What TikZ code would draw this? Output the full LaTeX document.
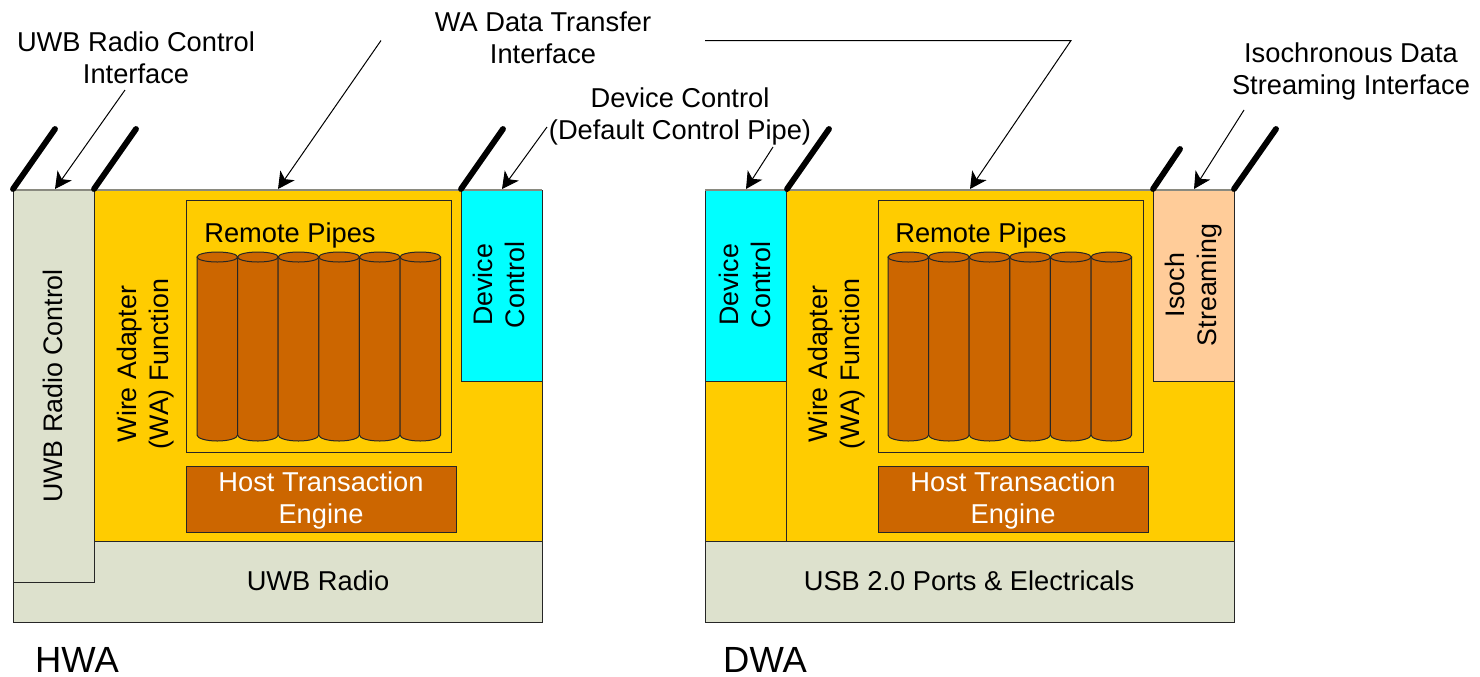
\documentclass[tikz,border=0pt]{standalone}
\usepackage{fontspec}
\setmainfont{Liberation Sans}
\usetikzlibrary{arrows.meta}
\definecolor{wayellow}{HTML}{FFCC00}
\definecolor{wabrown}{HTML}{CC6600}
\definecolor{wagrey}{HTML}{DDE1CD}
\definecolor{wacyan}{HTML}{00FFFF}
\definecolor{wapeach}{HTML}{FFCC99}
\definecolor{waedge}{HTML}{8A8A80}
\tikzset{
  box/.style={draw=black!85,line width=0.75pt,inner sep=0pt,outer sep=0pt,anchor=north west},
  lbl/.style={font=\fontsize{20.45}{24}\selectfont,align=center,inner sep=0pt,text=black},
  rlbl/.style={lbl,font=\fontsize{20.1}{24}\selectfont,rotate=90},
  wlbl/.style={lbl,text=white},
  big/.style={font=\fontsize{27.3}{32}\selectfont,inner sep=0pt},
  leader/.style={line width=0.75pt,-{Stealth[length=12.5pt,width=13pt,inset=3.5pt]}},
  ant/.style={line width=4.4pt,line cap=round},
  topedge/.style={draw=waedge,line width=1pt},
  cyl/.style={draw=black!85,line width=0.75pt,fill=wabrown}
}
\newcommand{\bx}[7]{\node[box,fill=#2,minimum width={(#5-#3)*0.75pt},minimum height={(#6-#4)*0.75pt}] (#1) at (#3,#4) {#7};}
\newcommand{\cylrow}[1]{%
  \foreach \i in {0,...,5}{
    \pgfmathsetmacro{\xa}{#1+40.6*\i}
    \pgfmathsetmacro{\xb}{\xa+40.6}
    \pgfmathsetmacro{\xm}{\xa+20.3}
    \draw[cyl] (\xa,257) -- (\xa,435) arc[start angle=180,end angle=360,x radius=20.3,y radius=-6] -- (\xb,257);
    \draw[cyl] (\xm,257) ellipse[x radius=20.3,y radius=5];
  }}
\begin{document}
\begin{tikzpicture}[x=0.75pt,y=-0.75pt]
\useasboundingbox (0,0) rectangle (1480,676);
% ---- HWA
\bx{hyellow}{wayellow}{94}{190}{542}{541}{}
\bx{hbottom}{wagrey}{13}{541}{542}{622}{}
\bx{hctrl}{wagrey}{13}{190}{94}{582}{}
\bx{hdev}{wacyan}{461}{190}{542}{381}{}
\bx{hremote}{wayellow}{186}{200}{451}{452}{}
\bx{hhost}{wabrown}{186}{466}{456}{532}{}
\cylrow{197}
% ---- DWA
\bx{dyellowl}{wayellow}{705}{381}{786}{541}{}
\bx{dyellow}{wayellow}{786}{190}{1234}{541}{}
\bx{dbottom}{wagrey}{705}{541}{1234}{622}{}
\bx{ddev}{wacyan}{705}{190}{786}{381}{}
\bx{diso}{wapeach}{1153}{190}{1234}{381}{}
\bx{dremote}{wayellow}{878}{200}{1143}{452}{}
\bx{dhost}{wabrown}{878}{466}{1148}{532}{}
\cylrow{888}
% grey top edges
\draw[topedge] (13,190) -- (542,190);
\draw[topedge] (705,190) -- (1234,190);
% antennas
\coordinate (a1s) at (13,189); \coordinate (a1e) at (55,129);
\coordinate (a2s) at (94,189); \coordinate (a2e) at (136,129);
\coordinate (a3s) at (461,189); \coordinate (a3e) at (503,129);
\coordinate (a4s) at (787,189); \coordinate (a4e) at (829,129);
\coordinate (a5s) at (1153,189); \coordinate (a5e) at (1180,149);
\coordinate (a6s) at (1234,189); \coordinate (a6e) at (1276,129);
\foreach \k in {1,...,6}{\draw[ant] (a\k s) -- (a\k e);}
% leader lines
\coordinate (c1) at (125,90); \coordinate (c1e) at (55,189);
\coordinate (c2) at (381,40.5); \coordinate (c2e) at (278,189);
\coordinate (c3) at (705,40.5); \coordinate (c3m) at (1071,40.5); \coordinate (c3e) at (970,189);
\coordinate (c4) at (547,127); \coordinate (c4e) at (502,189);
\coordinate (c5) at (773,147); \coordinate (c5e) at (746,189);
\coordinate (c6) at (1244,110); \coordinate (c6e) at (1194,189);
\draw[leader] (c1) -- (c1e);
\draw[leader] (c2) -- (c2e);
\draw[leader] (c3) -- (c3m) -- (c3e);
\draw[leader] (c4) -- (c4e);
\draw[leader] (c5) -- (c5e);
\draw[leader] (c6) -- (c6e);
% labels
\node[lbl] (t1) at (136,58) {UWB Radio Control\\Interface};
\node[lbl] (t2) at (543,38) {WA Data Transfer\\Interface};
\node[lbl] (t3) at (680,116) {Device Control\\(Default Control Pipe)};
\node[lbl] (t4) at (1351,71) {Isochronous Data\\Streaming Interface};
\node[rlbl] (t5) at (53,386) {UWB Radio Control};
\node[rlbl] (t6) at (146,364) {Wire Adapter\\(WA) Function};
\node[rlbl] (t7) at (837,364) {Wire Adapter\\(WA) Function};
\node[rlbl] (t8) at (499,285) {Device\\Control};
\node[rlbl] (t9) at (745,285) {Device\\Control};
\node[rlbl] (t10) at (1194,285) {Isoch\\Streaming};
\node[lbl] (t11) at (290,235) {Remote Pipes};
\node[lbl] (t12) at (981,235) {Remote Pipes};
\node[wlbl] (t13) at (321,500) {Host Transaction\\Engine};
\node[wlbl] (t14) at (1013,500) {Host Transaction\\Engine};
\node[lbl] (t15) at (318,581) {UWB Radio};
\node[lbl] (t16) at (969,581) {USB 2.0 Ports \& Electricals};
\node[big] (t17) at (77,660) {HWA};
\node[big] (t18) at (765,660) {DWA};
\end{tikzpicture}
\end{document}
